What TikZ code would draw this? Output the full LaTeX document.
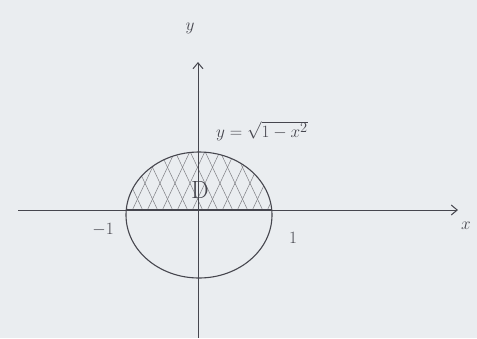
\documentclass[tikz,border=0pt]{standalone}
\usetikzlibrary{arrows.meta}
\definecolor{paper}{RGB}{234,237,240}
\definecolor{ink}{RGB}{70,70,78}
\begin{document}
\begin{tikzpicture}[x=1pt,y=-1pt,
  axis/.style={draw=ink, line width=1pt, -{Straight Barb[length=6pt,width=10pt]}},
  curve/.style={draw=ink, line width=1.1pt},
  hatchline/.style={draw=ink!70, line width=0.5pt},
  lbl/.style={text=ink, inner sep=0pt, font=\fontsize{17}{17}\selectfont}]
\fill[paper] (0,0) rectangle (477,338);
\useasboundingbox (0,0) rectangle (477,338);
% hatching of D
\begin{scope}
  \clip (0,0) rectangle (477,210);
  \clip (199,215) ellipse [x radius=73, y radius=63];
  \foreach \i in {-6,...,14} {
    \draw[hatchline] (100+\i*15,215) -- ++(33,-70);
    \draw[hatchline] (100+\i*15,215) -- ++(-33,-70);
  }
\end{scope}
% circle
\node[draw=none, inner sep=0pt] (c) at (199,215) {};
\draw[curve] (c) ellipse [x radius=73, y radius=63];
% axes
\coordinate (xs) at (18,210);
\coordinate (xe) at (458,210);
\coordinate (ys) at (198,338);
\coordinate (ye) at (198,62);
\coordinate (bl) at (127,210);
\coordinate (br) at (272,210);
\draw[axis] (xs) -- (xe);
\draw[axis] (ys) -- (ye);
\draw[curve, line width=1.6pt] (bl) -- (br);
% labels
\node[lbl] (ylab) at (190,28) {$y$};
\node[lbl] (xlab) at (466,226) {$x$};
\node[lbl] (m1) at (103,230) {$-1$};
\node[lbl] (p1) at (293,238) {$1$};
\node[lbl, font=\fontsize{28}{28}\selectfont] (D) at (200,190) {$\mathrm{D}$};
\node[lbl, anchor=west, font=\fontsize{19}{19}\selectfont] (eq) at (216,131) {$y=\sqrt{1-x^{2}}$};
\end{tikzpicture}
\end{document}
